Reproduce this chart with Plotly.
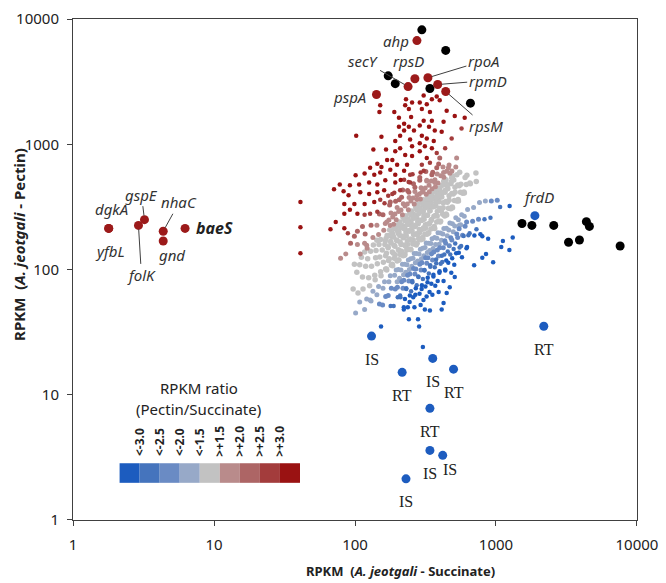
import math
import plotly.graph_objects as go

# ---------------- labelled genes (RPKM succinate, RPKM pectin) ----------------
red_genes = ["ahp", "rpsD", "rpoA", "secY", "rpmD", "rpsM", "pspA",
             "dgkA", "yfbL", "folK", "gspE", "nhaC", "gnd", "baeS"]
red_succ = [275, 266, 329, 238, 386, 440, 142, 1.79, 1.79, 2.91, 3.21, 4.36, 4.36, 6.23]
red_pect = [6730, 3340, 3400, 2890, 3000, 2640, 2500, 213, 213, 225, 250, 202, 169, 213]

black_succ = [298, 440, 172, 193, 340, 659, 1530, 1798, 2570, 3273, 3910, 4380, 4600, 7600]
black_pect = [8200, 5620, 3520, 3050, 2790, 2130, 233, 225, 225, 165, 172, 241, 221, 154]

blue_labels = ["frdD", "IS", "RT", "IS", "RT", "RT", "RT", "IS", "IS", "IS"]
blue_succ = [1888, 131, 2184, 356, 216, 500, 340, 340, 419, 230]
blue_pect = [269, 29.4, 35.2, 19.5, 15.1, 16.0, 7.78, 3.59, 3.28, 2.13]

# ---------------- legend bins ----------------
ratio_labels = ["<-3.0", "<-2.5", "<-2.0", "<-1.5", ">+1.5", ">+2.0", ">+2.5", ">+3.0"]
bin_colors = ["#1c5cbf", "#4574bd", "#6a8bc4", "#97a9c8", "#c2c2c2",
              "#b98b8b", "#ad6565", "#a33c3c", "#9a1212"]

tick_vals = [1, 10, 100, 1000, 10000]
tick_text = ["1", "10", "100", "1000", "10000"]

# ---------------- all other genes (RPKM succinate, RPKM pectin) ----------------
cloud_upper = [
    (230, 2290), (254, 2160), (227, 2050), (241, 1910), (151, 2050), (149, 1810), (190, 1810), (205, 1630),
    (250, 1650), (223, 1460), (205, 1380), (241, 1380), (223, 1290), (262, 1290), (102, 1170), (154, 1150),
    (193, 1060), (209, 1170), (246, 1090), (254, 965), (135, 910), (166, 910), (193, 880), (209, 931),
    (227, 820), (254, 805), (184, 750), (169, 750), (144, 700), (128, 649), (154, 660), (199, 685),
    (234, 685), (101, 565), (117, 583), (137, 570), (151, 594), (178, 625), (193, 570), (223, 615),
    (246, 570), (78, 478), (71, 437), (92, 470), (107, 478), (126, 496), (144, 478), (164, 515),
    (193, 496), (223, 522), (246, 496), (83, 422), (90, 392), (109, 414), (126, 400), (144, 414),
    (161, 430), (184, 400), (209, 430), (241, 414), (41, 346), (84, 334), (99, 334), (117, 334),
    (137, 346), (151, 360), (178, 346), (206, 360), (84, 279), (92, 300), (104, 279), (117, 274),
    (128, 279), (144, 289),
    (307, 2450), (351, 2290), (399, 2250), (380, 2410), (288, 2160), (323, 2090), (298, 1910), (340, 1810),
    (447, 1850), (510, 1680), (600, 1630), (307, 1540), (351, 1540), (425, 1510), (288, 1410), (335, 1380),
    (368, 1290), (412, 1260), (298, 1170), (323, 1110), (362, 1060), (288, 1020), (313, 965), (351, 931),
    (288, 880), (380, 851), (323, 778), (298, 685), (340, 711), (380, 649), (307, 615), (351, 570),
    (288, 542), (323, 515), (368, 496),
    (266, 453), (298, 414), (335, 392), (380, 378), (412, 414), (275, 363), (447, 470), (485, 542),
    (425, 594), (460, 649), (526, 778), (399, 778), (436, 931), (485, 1114), (570, 1334),
    (41, 217), (41, 135), (67, 210), (73, 240), (84, 214), (89, 195), (99, 184), (104, 202),
    (113, 221), (93, 162), (104, 158), (86, 133), (79, 123), (117, 162), (122, 148), (109, 133),
]

cloud_core = [
    (97, 70), (103, 95), (99, 110),
    (105, 65), (113, 87), (108, 109), (111, 125),
    (114, 70), (125, 86), (119, 106), (123, 122), (117, 138),
    (127, 74), (138, 90), (131, 106), (140, 124), (129, 140), (135, 157),
    (139, 83), (152, 96), (144, 111), (150, 126), (141, 142), (148, 158), (143, 171),
    (153, 89), (167, 101), (159, 114), (165, 129), (156, 143), (163, 158), (152, 174), (169, 187),
    (168, 99), (184, 110), (175, 122), (187, 135), (172, 149), (180, 163), (166, 177), (185, 191), (176, 207),
    (185, 107), (203, 119), (193, 131), (206, 142), (189, 156), (199, 170), (183, 183), (205, 199), (195, 215), (188, 230),
    (205, 119), (225, 130), (214, 140), (229, 153), (209, 166), (220, 179), (203, 194), (227, 210), (216, 225), (208, 240), (223, 255),
    (226, 133), (248, 145), (236, 159), (252, 171), (231, 186), (243, 202), (224, 219), (250, 236), (238, 252), (229, 269), (245, 283),
    (249, 144), (272, 157), (259, 173), (278, 189), (254, 204), (267, 220), (246, 238), (275, 257), (262, 275), (252, 293), (270, 312),
    (276, 162), (302, 180), (287, 197), (307, 215), (281, 232), (296, 249), (273, 270), (305, 290), (290, 310), (279, 331), (299, 345),
    (303, 175), (332, 195), (316, 214), (338, 233), (309, 252), (325, 271), (300, 293), (335, 316), (319, 338), (306, 360), (329, 376),
    (333, 197), (365, 221), (347, 246), (372, 270), (340, 295), (358, 319), (330, 344), (368, 369), (351, 393), (337, 418),
    (368, 213), (402, 240), (383, 267), (410, 294), (375, 321), (395, 348), (364, 375), (406, 402), (387, 430), (372, 457),
    (405, 243), (443, 277), (422, 311), (452, 345), (413, 379), (435, 413), (400, 447), (447, 477), (426, 507),
    (447, 273), (489, 315), (465, 357), (498, 400), (456, 442), (479, 484), (442, 522), (494, 559),
    (492, 311), (539, 363), (513, 414), (549, 466), (502, 518), (528, 570), (487, 611),
    (542, 353), (593, 416), (564, 479), (604, 542), (553, 599),
    (597, 408), (653, 490), (622, 565),
    (658, 485), (721, 589),
    (725, 504),
    (165, 101), (173, 118), (167, 135), (171, 152), (164, 169), (174, 186),
    (181, 108), (190, 123), (184, 138), (192, 153), (179, 167), (188, 182), (183, 197), (191, 212),
    (199, 117), (210, 131), (203, 144), (212, 158), (197, 172), (208, 187), (201, 201), (211, 215), (204, 230),
    (220, 129), (233, 143), (224, 157), (235, 170), (218, 184), (230, 197), (222, 213), (236, 229), (226, 245), (219, 261),
    (241, 145), (257, 160), (247, 175), (260, 190), (243, 205), (253, 220), (239, 237), (258, 255), (249, 272), (244, 290),
    (266, 160), (283, 176), (272, 193), (286, 209), (268, 226), (279, 242), (264, 261), (284, 280), (274, 300), (269, 319),
    (294, 173), (313, 192), (300, 210), (316, 228), (297, 246), (308, 268), (291, 289), (314, 310), (303, 331), (296, 353),
    (324, 191), (345, 211), (330, 231), (349, 251), (327, 271), (340, 295), (321, 318), (346, 342), (334, 365), (326, 389),
    (357, 214), (380, 240), (363, 266), (384, 292), (360, 317), (374, 343), (353, 369), (382, 395), (367, 421),
    (393, 244), (419, 276), (400, 309), (423, 341), (396, 374), (412, 406), (390, 438), (417, 471),
    (433, 268), (460, 308), (441, 349), (465, 389), (437, 429), (452, 469),
    (478, 306), (507, 355), (486, 404), (512, 454), (481, 503),
    (527, 353), (560, 413), (536, 472),
    (581, 407), (616, 478),
    (121, 156), (118, 192), (134, 180), (130, 226), (147, 190), (143, 226), (149, 277),
    (160, 206), (164, 233), (158, 274), (162, 338), (178, 225), (174, 248), (180, 283), (176, 327), (172, 389),
    (196, 250), (192, 277), (199, 312), (194, 351), (190, 410), (217, 274), (212, 298), (220, 335), (214, 378),
    (218, 432), (211, 518), (239, 300), (235, 333), (242, 376), (236, 428), (240, 500), (263, 333), (258, 372),
    (266, 419), (260, 485), (256, 576), (291, 365), (286, 400), (294, 450), (288, 516), (292, 595), (320, 399),
    (315, 447), (323, 510), (318, 606), (352, 442), (347, 509), (356, 597), (388, 491), (383, 580), (392, 697),
    (427, 545), (421, 660), (471, 588), (465, 682), (519, 658),
    (168, 240), (185, 262), (204, 290), (226, 322), (249, 352), (275, 390), (304, 420), (335, 470), (369, 520),
    (406, 560), (447, 610),
]

cloud_lower = [
    (101, 45), (108, 55), (121, 58), (117, 48), (134, 67), (130, 56), (147, 73), (143, 63), (149, 53),
    (162, 80), (158, 71), (165, 61), (157, 52), (178, 89), (174, 80), (181, 71), (172, 62), (179, 51),
    (196, 99), (191, 90), (199, 80), (193, 70), (201, 60), (188, 51),
    (217, 110), (212, 99), (221, 91), (214, 80), (219, 71), (210, 60), (222, 50),
    (239, 119), (234, 109), (243, 100), (236, 90), (241, 81), (231, 71), (245, 62), (237, 50),
    (263, 134), (258, 123), (268, 113), (260, 102), (266, 92), (255, 81), (270, 71), (259, 60), (264, 50),
    (291, 145), (285, 133), (296, 122), (288, 110), (294, 99), (282, 87), (298, 75), (287, 64), (292, 52),
    (320, 163), (314, 150), (326, 137), (317, 124), (323, 112), (311, 99), (328, 86), (316, 73), (322, 61), (313, 48),
    (352, 176), (346, 161), (358, 147), (349, 133), (355, 119), (342, 105), (360, 91), (348, 77), (354, 63),
    (388, 197), (381, 178), (395, 159), (384, 143), (391, 128), (377, 112), (398, 97), (386, 81), (392, 66),
    (427, 213), (420, 192), (434, 170), (423, 149), (430, 132), (416, 115), (437, 98), (425, 81),
    (471, 235), (463, 207), (478, 179), (467, 155), (474, 132), (459, 113), (482, 94),
    (519, 259), (510, 223), (527, 192), (514, 161), (522, 135), (506, 109),
    (571, 274), (562, 228), (579, 188), (566, 154), (574, 125),
    (629, 301), (619, 239), (637, 188), (624, 151),
    (694, 312), (683, 243), (703, 187), (764, 343), (752, 252), (776, 191),
    (841, 353), (829, 252), (927, 352), (914, 259), (1021, 357),
    (203, 100), (207, 85), (200, 72), (209, 62),
    (225, 110), (229, 95), (222, 82), (231, 70), (226, 58),
    (248, 122), (253, 106), (245, 92), (255, 79), (250, 67), (244, 55),
    (273, 134), (278, 117), (270, 101), (281, 88), (274, 75), (268, 63),
    (302, 148), (308, 129), (298, 113), (311, 98), (303, 84), (297, 70), (306, 57),
    (333, 162), (339, 142), (329, 124), (342, 108), (334, 93), (327, 79), (338, 66),
    (367, 180), (373, 158), (362, 138), (376, 120), (368, 104), (360, 88), (371, 74),
    (404, 196), (410, 171), (399, 149), (413, 129), (405, 111), (397, 94),
    (445, 214), (451, 186), (440, 162), (455, 139), (444, 118), (436, 100),
    (491, 232), (498, 200), (486, 172), (501, 146), (489, 123),
    (541, 250), (548, 212), (535, 180), (552, 150),
    (596, 266), (604, 222), (590, 185),
    (128, 57), (153, 35), (222, 48), (241, 40), (280, 40), (285, 35), (303, 24), (340, 47), (412, 48),
    (425, 54), (447, 65), (470, 72), (510, 87), (545, 136), (618, 148), (700, 108), (800, 124), (850, 133),
    (955, 114), (1090, 151), (1245, 143), (1120, 169), (1315, 180), (880, 176), (800, 184), (727, 210),
    (650, 195), (550, 226), (1070, 316), (1250, 322),
]


def bin_index(x, y):
    fold = (y / x) / 0.8
    f = fold if fold >= 1 else -1.0 / fold
    if f <= -3:
        return 0
    if f <= -2.5:
        return 1
    if f <= -2:
        return 2
    if f <= -1.5:
        return 3
    if f < 1.5:
        return 4
    if f < 2:
        return 5
    if f < 2.5:
        return 6
    if f < 3:
        return 7
    return 8


groups = {i: ([], []) for i in range(9)}
for x, y in cloud_core + cloud_upper + cloud_lower:
    b = bin_index(x, y)
    groups[b][0].append(x)
    groups[b][1].append(y)

fig = go.Figure()
for b in [4, 3, 5, 2, 6, 1, 7, 0, 8]:
    xs, ys = groups[b]
    size = 5.5 if b == 4 else (5 if b in (2, 3, 5, 6) else 4.5)
    fig.add_trace(go.Scatter(x=xs, y=ys, mode="markers",
                             marker=dict(size=size, color=bin_colors[b], line=dict(width=0)),
                             hoverinfo="skip"))

fig.add_trace(go.Scatter(x=black_succ, y=black_pect, mode="markers",
                         marker=dict(size=9, color="#000000", line=dict(width=0))))
fig.add_trace(go.Scatter(x=red_succ, y=red_pect, mode="markers", text=red_genes,
                         marker=dict(size=9, color="#9c1a1a", line=dict(width=0))))
fig.add_trace(go.Scatter(x=blue_succ, y=blue_pect, mode="markers", text=blue_labels,
                         marker=dict(size=9, color="#1d5cbf", line=dict(width=0))))

L = math.log10
gene_font = dict(family="Noto Sans", size=15, color="#333333")
annotations = []

# labels placed relative to their point (pixel offsets)
plain_offsets = {
    "ahp": dict(xanchor="right", xshift=-6, yshift=0),
    "rpsD": dict(xanchor="center", xshift=-6, yshift=18),
    "pspA": dict(xanchor="right", xshift=-8, yshift=-3),
    "dgkA": dict(xanchor="center", xshift=3, yshift=19),
    "yfbL": dict(xanchor="center", xshift=1, yshift=-23),
    "gnd": dict(xanchor="center", xshift=9, yshift=-14),
}
arrow_offsets = {
    "secY": (-45, -26), "rpoA": (56, -17), "rpmD": (50, -4), "rpsM": (40, 35),
    "gspE": (-3, -25), "folK": (3, 50), "nhaC": (16, -29),
}
for g, xv, yv in zip(red_genes, red_succ, red_pect):
    if g in plain_offsets:
        o = plain_offsets[g]
        annotations.append(dict(x=L(xv), y=L(yv), xref="x", yref="y", text="<i>" + g + "</i>",
                                showarrow=False, font=gene_font, xanchor=o["xanchor"],
                                yanchor="middle", xshift=o["xshift"], yshift=o["yshift"]))
    elif g in arrow_offsets:
        ax, ay = arrow_offsets[g]
        annotations.append(dict(x=L(xv), y=L(yv), xref="x", yref="y", text="<i>" + g + "</i>",
                                showarrow=True, arrowhead=0, arrowwidth=1, arrowcolor="#404040",
                                standoff=4, ax=ax, ay=ay, font=gene_font))
    elif g == "baeS":
        annotations.append(dict(x=L(xv), y=L(yv), xref="x", yref="y", text="<b><i>baeS</i></b>",
                                showarrow=False, font=dict(family="Noto Sans", size=16, color="#222"),
                                xanchor="left", yanchor="middle", xshift=9, yshift=0))

for i, (lab, xv, yv) in enumerate(zip(blue_labels, blue_succ, blue_pect)):
    if lab == "frdD":
        annotations.append(dict(x=L(xv), y=L(yv), xref="x", yref="y", text="<i>frdD</i>",
                                showarrow=False, font=gene_font, xshift=4, yshift=19))
    else:
        xs, ys = (7, -14) if i == 8 else (0, -23)
        annotations.append(dict(x=L(xv), y=L(yv), xref="x", yref="y", text=lab,
                                showarrow=False, xshift=xs, yshift=ys,
                                font=dict(family="Liberation Serif", size=16, color="#222")))

# axis titles
annotations.append(dict(x=0.58, y=-0.1016, xref="paper", yref="paper", showarrow=False,
                        xanchor="center", yanchor="middle",
                        text="<b>RPKM  (<i>A. jeotgali</i> - Succinate)</b>",
                        font=dict(family="Noto Sans", size=13, color="#222")))
annotations.append(dict(x=-0.0949, y=0.55, xref="paper", yref="paper", showarrow=False,
                        xanchor="center", yanchor="middle",
                        textangle=-90, text="<b>RPKM  (<i>A. jeotgali</i> - Pectin)</b>",
                        font=dict(family="Noto Sans", size=15, color="#222")))

# colour legend
annotations.append(dict(x=0.2232, y=0.2637, xref="paper", yref="paper", showarrow=False,
                        xanchor="center", yanchor="middle",
                        text="RPKM ratio", font=dict(family="Noto Sans", size=15, color="#222")))
annotations.append(dict(x=0.2232, y=0.2207, xref="paper", yref="paper", showarrow=False,
                        xanchor="center", yanchor="middle",
                        text="(Pectin/Succinate)", font=dict(family="Noto Sans", size=15, color="#222")))
shapes = []
x_start, cell_w, y0, y1 = 0.0826, 0.03554, 0.0742, 0.1133
for i, c in enumerate(bin_colors):
    shapes.append(dict(type="rect", xref="paper", yref="paper",
                       x0=x_start + i * cell_w, x1=x_start + (i + 1) * cell_w,
                       y0=y0, y1=y1, fillcolor=c, line=dict(width=0), layer="above"))
for i, lab in enumerate(ratio_labels):
    annotations.append(dict(x=x_start + (i + 1) * cell_w, y=0.123, xref="paper", yref="paper",
                            showarrow=False, textangle=-90, text="<b>" + lab + "</b>",
                            xanchor="center", yanchor="bottom",
                            font=dict(family="Noto Sans", size=12, color="#222")))

axis_common = dict(type="log", range=[-0.0005, 4.0005], tickmode="array", tickvals=tick_vals,
                   ticktext=tick_text, ticklabeloverflow="allow",
                   showline=True, linecolor="#404040", linewidth=1, mirror=True,
                   ticks="outside", ticklen=5, tickcolor="#404040", showgrid=False, zeroline=False,
                   tickfont=dict(family="Noto Sans", size=15, color="#222"))
fig.update_xaxes(**axis_common, ticklabelstandoff=6)
fig.update_yaxes(**axis_common, ticklabelstandoff=5)

fig.update_layout(width=666, height=583, margin=dict(l=73, r=24, t=8, b=63),
                  plot_bgcolor="white", paper_bgcolor="white", showlegend=False,
                  annotations=annotations, shapes=shapes)

fig.write_html("out.html", config={"displayModeBar": False},
               post_script="document.body.style.margin='0';document.body.style.padding='0';")
